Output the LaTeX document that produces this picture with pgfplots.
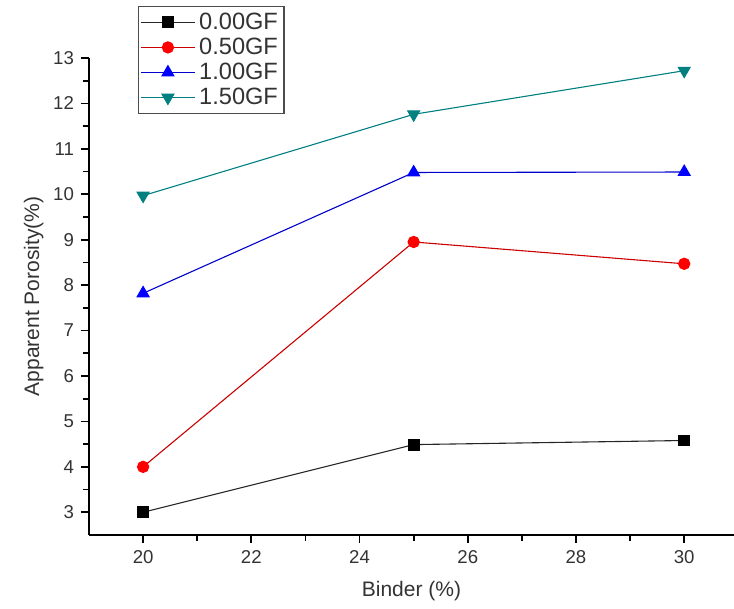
\documentclass[border=0pt]{standalone}
\usepackage{fontspec}
\setmainfont{Liberation Sans}
\usepackage{pgfplots}
\pgfplotsset{compat=1.18}

\definecolor{gfteal}{RGB}{0,128,128}

\begin{document}
\begin{tikzpicture}
\useasboundingbox (-44.5pt,-37pt) rectangle (322.5pt,267.5pt);
\begin{axis}[
    scale only axis,
    width=322.5pt,
    height=238.5pt,
    xmin=19, xmax=30.92,
    ymin=2.5, ymax=13,
    axis x line=bottom,
    axis y line=left,
    axis line style={-, line width=1pt},
    xtick={20,22,...,30},
    ytick={3,4,...,13},
    minor x tick num=1,
    minor y tick num=1,
    tick align=outside,
    major tick length=4pt,
    minor tick length=3pt,
    tick style={line width=0.9pt, black},
    /pgf/number format/assume math mode=true,
    tick label style={font=\fontsize{9.3}{10}\selectfont, text=black!80},
    xlabel={Binder (\%)},
    ylabel={Apparent Porosity(\%)},
    label style={font=\fontsize{10.5}{12}\selectfont, text=black!80},
    xlabel style={yshift=-2pt},
    ylabel style={yshift=-2pt},
    legend style={
        at={(0.076,1.109)}, anchor=north west,
        draw=black!70, line width=0.6pt,
        font=\fontsize{11.8}{12.5}\selectfont,
        text=black!80,
        inner sep=1pt, row sep=-1.2pt,
        cells={anchor=west},
    },
    legend image code/.code={
        \draw[mark repeat=2, mark phase=2]
            plot coordinates {(0cm,0cm) (0.47cm,0cm) (0.94cm,0cm)};
    },
    every axis plot/.append style={line width=0.55pt},
]

\addplot[black!85, mark=square*, mark size=2.7pt, mark options={fill=black, draw=black}]
coordinates {(20,3.0) (25,4.49) (30,4.58)};

\addplot[red!80!black, mark=*, mark size=2.8pt, mark options={fill=red, draw=red}]
coordinates {(20,4.0) (25,8.95) (30,8.47)};

\addplot[blue!80!black, mark=triangle*, mark size=3.4pt, mark options={fill=blue, draw=blue}]
coordinates {(20,7.82) (25,10.48) (30,10.49)};

\addplot[gfteal, mark=triangle*, mark size=3.4pt, mark options={fill=gfteal, draw=gfteal, rotate=180}]
coordinates {(20,9.97) (25,11.76) (30,12.72)};

\legend{0.00GF, 0.50GF, 1.00GF, 1.50GF}
\end{axis}
\end{tikzpicture}
\end{document}
